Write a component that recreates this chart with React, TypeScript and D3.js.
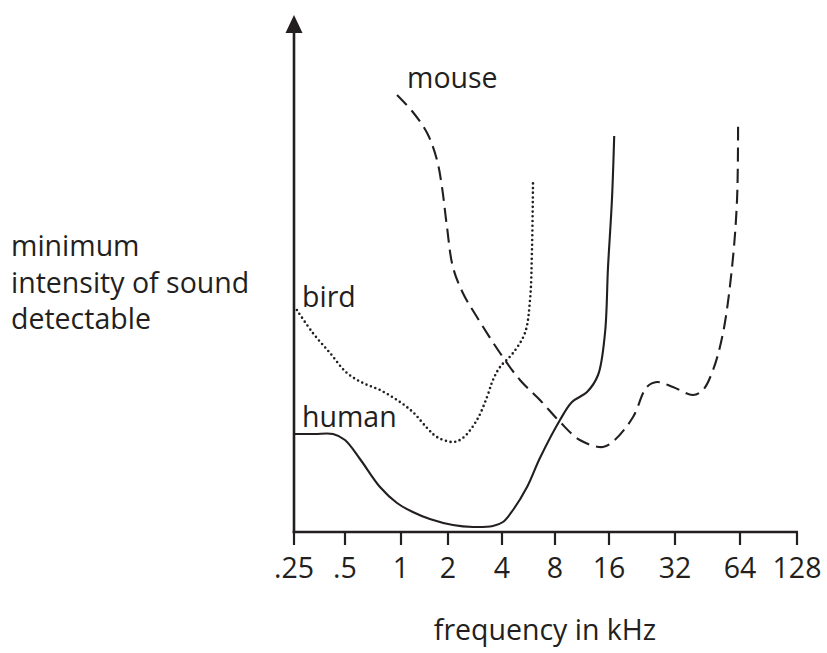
import React from "react";
import * as d3 from "d3";

// Frequency ticks (kHz) on the log2 axis
const tickValues = [0.25, 0.5, 1, 2, 4, 8, 16, 32, 64, 128];
const tickLabels = [".25", ".5", "1", "2", "4", "8", "16", "32", "64", "128"];

// Curves: [frequency kHz, minimum detectable intensity (arbitrary units)]
const human: [number, number][] = [
  [0.25, 19.6], [0.33, 19.6], [0.425, 19.6], [0.5, 18.4], [0.602, 14.6], [0.771, 9],
  [0.952, 5.8], [1.19, 4], [1.53, 2.6], [2.13, 1.4], [2.76, 1.0], [3.56, 1.2],
  [4.05, 2], [4.62, 4.4], [5.55, 9], [6.57, 14.8], [8.53, 22.4], [9.95, 26],
  [12.07, 28], [13.9, 31.4], [15.2, 39.8], [15.8, 53], [16.5, 66.4], [16.9, 79.2],
];
const bird: [number, number][] = [
  [0.26, 44.4], [0.323, 39.8], [0.408, 35.8], [0.512, 31.8], [0.625, 29.8],
  [0.771, 28.4], [0.952, 26.4], [1.19, 24], [1.47, 20.8], [1.7, 19], [2.13, 18],
  [2.42, 18.8], [2.9, 22.4], [3.3, 27], [3.56, 30.4], [3.9, 33], [4.62, 35.8],
  [5.4, 39.8], [5.77, 46.4], [5.92, 56.4], [6.0, 69.8],
];
const mouse: [number, number][] = [
  [0.952, 87.4], [1.19, 84], [1.47, 79.8], [1.7, 74.4], [1.83, 69], [1.97, 61],
  [2.13, 53], [2.42, 47.8], [2.9, 43], [3.9, 35.8], [5.06, 30.4], [6.57, 26.4],
  [8.53, 22], [11.0, 18.4], [14.8, 17], [17.0, 18.4], [20.6, 23], [23.8, 29],
  [26.5, 30], [31.3, 29], [38.8, 27.4], [43.1, 28.4], [48.0, 32.4], [53.4, 39.8],
  [58.8, 53], [62.0, 66.4], [62.7, 81.4],
];

const yLabelLines = ["minimum", "intensity of sound", "detectable"];
const xTitle = "frequency in kHz";

// layout (hand-drawn axis: tick spacing is slightly irregular)
const tickPixels = [294, 345, 401, 448, 502, 555, 609, 675, 740, 797];
const W = 827;
const H = 653;
const INK = "#231f20";
const FONT = "'Open Sans', sans-serif";
const FS = 28.5;

export default function App() {
  const x = d3
    .scaleLinear()
    .domain(tickValues.map((v) => Math.log2(v)))
    .range(tickPixels);
  const y = d3.scaleLinear().domain([0, 100]).range([532, 32]);
  const X = (f: number) => x(Math.log2(f));

  const line = d3
    .line<[number, number]>()
    .x((d) => X(d[0]))
    .y((d) => y(d[1]))
    .curve(d3.curveCatmullRom.alpha(0.5));

  const x0 = X(tickValues[0]);
  const x1 = X(tickValues[tickValues.length - 1]);
  const y0 = y(0);

  return (
    <svg
      width={W}
      height={H}
      style={{ position: "absolute", left: 0, top: 0, background: "#fff" }}
      fontFamily={FONT}
    >
      {/* y axis with arrow */}
      <line x1={x0} x2={x0} y1={y0 + 1} y2={30} stroke={INK} strokeWidth={2.6} />
      <path d={`M${x0},15 L${x0 + 8.5},33 L${x0 - 8.5},33 Z`} fill={INK} />
      {/* x axis */}
      <line x1={x0 - 1.3} x2={x1 + 1} y1={y0} y2={y0} stroke={INK} strokeWidth={2.6} />
      {tickValues.map((t, i) => (
        <g key={t}>
          <line x1={X(t)} x2={X(t)} y1={y0} y2={y0 + 13} stroke={INK} strokeWidth={2.2} />
          <text x={X(t)} y={578} textAnchor="middle" fontSize={FS} fill={INK}>
            {tickLabels[i]}
          </text>
        </g>
      ))}

      {/* curves */}
      <path d={line(human) || ""} fill="none" stroke={INK} strokeWidth={2.1} />
      <path
        d={line(bird) || ""}
        fill="none"
        stroke={INK}
        strokeWidth={2.6}
        strokeDasharray="0 4.7"
        strokeLinecap="round"
      />
      <path
        d={line(mouse) || ""}
        fill="none"
        stroke={INK}
        strokeWidth={2.1}
        strokeDasharray="14 7"
      />

      {/* curve labels */}
      <text x={302} y={307} fontSize={FS} fill={INK}>bird</text>
      <text x={302} y={427} fontSize={FS} fill={INK}>human</text>
      <text x={407} y={88} fontSize={FS} fill={INK}>mouse</text>

      {/* axis titles */}
      {yLabelLines.map((s, i) => (
        <text key={s} x={11} y={256 + i * 36.5} fontSize={FS} fill={INK}>
          {s}
        </text>
      ))}
      <text x={545} y={640} textAnchor="middle" fontSize={FS} fill={INK}>
        {xTitle}
      </text>
    </svg>
  );
}
